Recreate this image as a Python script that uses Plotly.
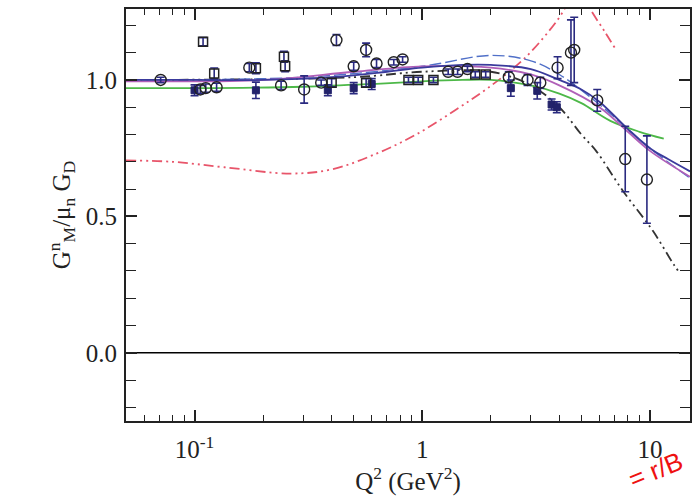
import plotly.graph_objects as go

# ---------------- data ----------------
circ_q2 = [0.071, 0.106, 0.112, 0.125, 0.174, 0.24, 0.303, 0.36, 0.42, 0.50, 0.567, 0.63, 0.75, 0.82,
           1.30, 1.43, 1.58, 2.4, 2.9, 3.3, 3.93, 4.5, 4.65, 5.87, 7.79, 9.7]
circ_y = [1.00, 0.965, 0.97, 0.973, 1.045, 0.98, 0.965, 0.99, 1.146, 1.05, 1.11, 1.06, 1.065, 1.075,
          1.03, 1.03, 1.04, 1.01, 1.0, 0.99, 1.045, 1.10, 1.11, 0.925, 0.71, 0.635]
circ_err = [0.01, 0.015, 0.015, 0.015, 0.015, 0.015, 0.05, 0.01, 0.02, 0.015, 0.025, 0.015, 0.01, 0.01,
            0.01, 0.01, 0.01, 0.02, 0.02, 0.02, 0.04, 0.12, 0.12, 0.04, 0.12, 0.16]

sq_q2 = [0.109, 0.122, 0.186, 0.247, 0.25, 0.40, 0.567, 0.87, 0.96, 1.12, 1.71, 1.9]
sq_y = [1.14, 1.024, 1.043, 1.085, 1.05, 0.99, 0.99, 1.0, 1.0, 1.0, 1.02, 1.02]
sq_err = [0.015, 0.02, 0.02, 0.02, 0.02, 0.015, 0.015, 0.01, 0.01, 0.01, 0.01, 0.01]

fill_q2 = [0.100, 0.186, 0.385, 0.50, 0.60, 2.45, 3.2, 3.7, 3.9]
fill_y = [0.962, 0.962, 0.962, 0.97, 0.985, 0.97, 0.96, 0.91, 0.90]
fill_err = [0.02, 0.03, 0.02, 0.02, 0.02, 0.03, 0.03, 0.02, 0.02]

blue_q2 = [0.05, 0.1, 0.2, 0.4, 0.7, 1.0, 1.5, 2.0, 3.0, 4.0, 5.0, 6.0, 8.0, 10, 12, 15]
blue_y = [1.0, 1.0, 1.0, 1.01, 1.03, 1.045, 1.055, 1.055, 1.04, 1.0, 0.965, 0.92, 0.82, 0.75, 0.71, 0.665]

purple_q2 = [0.05, 0.2, 0.5, 1.0, 2.0, 3.0, 4.0, 6.0, 8.0, 10, 15]
purple_y = [0.995, 1.0, 1.03, 1.05, 1.045, 1.02, 0.98, 0.90, 0.81, 0.74, 0.645]

dblue_q2 = [0.05, 0.3, 1.0, 2.0, 3.0, 4.0, 6.0, 10, 15]
dblue_y = [1.0, 1.01, 1.05, 1.09, 1.07, 1.02, 0.91, 0.75, 0.64]

green_q2 = [0.05, 0.1, 0.3, 0.6, 1.0, 1.5, 2.0, 3.0, 4.0, 5.0, 6.7, 9.0, 11.5]
green_y = [0.97, 0.97, 0.975, 0.985, 0.995, 1.0, 1.0, 0.98, 0.95, 0.915, 0.85, 0.81, 0.785]

black_q2 = [0.05, 0.5, 1.0, 2.0, 3.0, 4.0, 5.0, 5.8, 7.6, 10.3, 12.8, 13.6]
black_y = [1.0, 1.01, 1.03, 1.03, 0.98, 0.90, 0.80, 0.74, 0.594, 0.447, 0.32, 0.29]

red_q2 = [0.05, 0.08, 0.135, 0.265, 0.4, 0.63, 0.94, 1.4, 1.94, 2.82, 3.93, 4.6, 5.0, 5.47, 6.3, 7.03]
red_y = [0.705, 0.70, 0.68, 0.657, 0.672, 0.73, 0.80, 0.89, 0.97, 1.08, 1.22, 1.31, 1.33, 1.26, 1.18, 1.116]

x_tickvals = [0.1, 1, 10]
x_ticktext = ["10<sup>-1</sup>", "1", "10"]
y_tickvals = [0.0, 0.5, 1.0]
y_ticktext = ["0.0", "0.5", "1.0"]

# ---------------- figure ----------------
fig = go.Figure()

def curve(x, y, color, dash="solid", width=1.6):
    fig.add_trace(go.Scatter(x=x, y=y, mode="lines", line=dict(color=color, dash=dash, width=width, shape="spline"),
                             showlegend=False, hoverinfo="skip"))

curve(red_q2, red_y, "#e8556a", dash="10px,4px,2px,4px,2px,4px", width=1.8)
curve(black_q2, black_y, "#333333", dash="10px,4px,2px,4px,2px,4px", width=1.8)
curve(green_q2, green_y, "#4db848", width=1.8)
curve(dblue_q2, dblue_y, "#5070c8", dash="12px,4px", width=1.4)
curve(purple_q2, purple_y, "#b060b8", width=1.8)
curve(blue_q2, blue_y, "#3a3a9c", width=1.8)

# zero line
fig.add_trace(go.Scatter(x=[0.05, 15], y=[0, 0], mode="lines", line=dict(color="black", width=1.6),
                         showlegend=False, hoverinfo="skip"))

err_style = dict(type="data", thickness=1.6, width=4, color="#2a2a80")

fig.add_trace(go.Scatter(x=fill_q2, y=fill_y, mode="markers",
                         error_y=dict(array=fill_err, **err_style),
                         marker=dict(symbol="square", size=7, color="#22226a", line=dict(color="#22226a", width=1)),
                         showlegend=False))
fig.add_trace(go.Scatter(x=sq_q2, y=sq_y, mode="markers",
                         error_y=dict(array=sq_err, **err_style),
                         marker=dict(symbol="square-open", size=9, color="#222222", line=dict(width=1.5)),
                         showlegend=False))
fig.add_trace(go.Scatter(x=circ_q2, y=circ_y, mode="markers",
                         error_y=dict(array=circ_err, **err_style),
                         marker=dict(symbol="circle-open", size=11, color="#222222", line=dict(width=1.4)),
                         showlegend=False))

fig.add_annotation(text="= r/B", x=1.0, y=-0.185, xref="paper", yref="paper", showarrow=False,
                   textangle=-22, font=dict(family="Liberation Sans", size=26, color="#ee1111"),
                   xanchor="right", yanchor="bottom")

font = dict(family="Liberation Serif", size=25, color="#222222")
fig.update_layout(
    width=699, height=502,
    margin=dict(l=126, r=7, t=8, b=81),
    plot_bgcolor="white", paper_bgcolor="white",
    font=font,
    xaxis=dict(type="log", range=[-1.301, 1.176], tickvals=x_tickvals, ticktext=x_ticktext,
               ticks="inside", ticklen=11, tickwidth=1.5, tickcolor="#222222",
               showline=True, linecolor="#222222", linewidth=2, mirror="ticks",
               showgrid=False, zeroline=False, ticklabelstandoff=5,
               minor=dict(ticks="inside", ticklen=6, tickwidth=1.3, tickcolor="#222222", dtick="D1", showgrid=False),
               title=dict(text="Q<sup>2</sup> (GeV<sup>2</sup>)", font=font, standoff=4),
               tickfont=font),
    yaxis=dict(range=[-0.25, 1.26], tickvals=y_tickvals, ticktext=y_ticktext,
               ticks="inside", ticklen=11, tickwidth=1.5, tickcolor="#222222",
               showline=True, linecolor="#222222", linewidth=2, mirror="ticks",
               showgrid=False, zeroline=False, ticklabelstandoff=2,
               minor=dict(ticks="inside", ticklen=10, tickwidth=1.3, tickcolor="#222222", dtick=0.1, showgrid=False),
               title=dict(text="G<sup>n</sup><sub>M</sub>/μ<sub>n</sub> G<sub>D</sub>", font=font, standoff=8),
               tickfont=font),
)

fig.write_html("out.html")
